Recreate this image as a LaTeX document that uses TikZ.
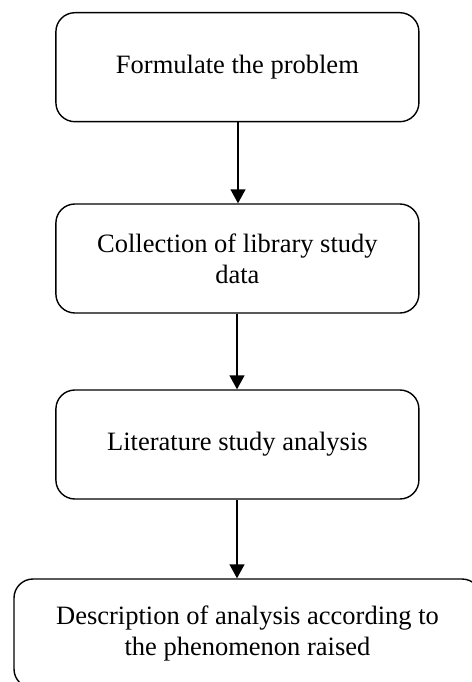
\documentclass[tikz,border=0pt]{standalone}
\usepackage{fontspec}
\setmainfont{Liberation Serif}
\usetikzlibrary{arrows.meta}
\begin{document}
\begin{tikzpicture}[x=1pt,y=-1pt,
  stepbox/.style={draw=black, line width=1.4pt, rounded corners=19pt, align=center,
    font=\fontsize{26.5}{31}\selectfont, inner sep=0pt},
  flow/.style={line width=1.4pt, -{Triangle[length=14pt,width=15pt]}}]
\useasboundingbox (0,0) rectangle (471,682);
\node[stepbox, minimum width=363pt, minimum height=109pt] (b1) at (237.4,67.2) {Formulate the problem};
\node[stepbox, minimum width=363pt, minimum height=109pt] (b2) at (237.4,258.5) {Collection of library study\\data};
\node[stepbox, minimum width=363pt, minimum height=109pt] (b3) at (237.4,444.5) {Literature study analysis};
\node[stepbox, minimum width=467pt, minimum height=109pt] (b4) at (247.5,633.5) {Description of analysis according to\\the phenomenon raised};
\draw[flow] (b1.south -| 238,0) -- (b2.north -| 238,0);
\draw[flow] (b2.south -| 237,0) -- (b3.north -| 237,0);
\draw[flow] (b3.south -| 237,0) -- (b4.north -| 237,0);
\end{tikzpicture}
\end{document}
